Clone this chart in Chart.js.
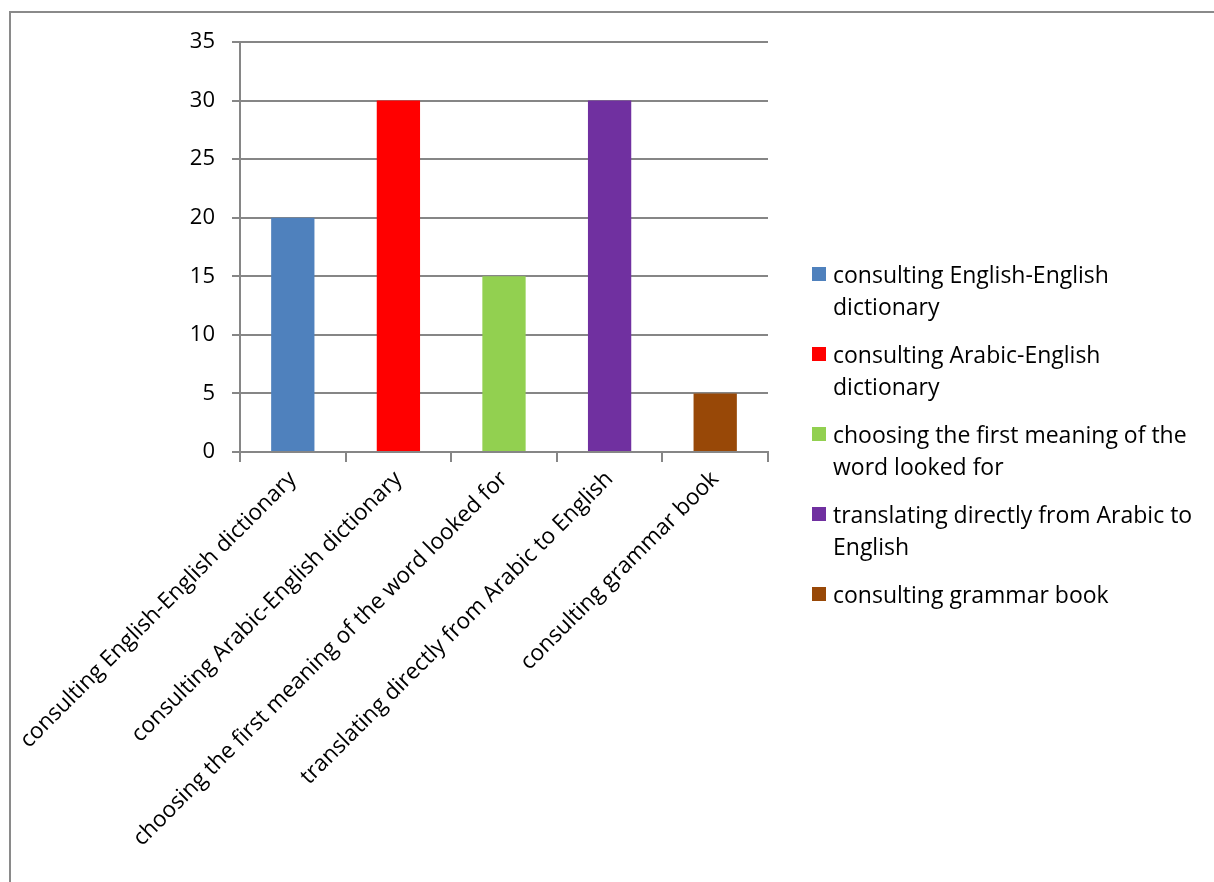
<!DOCTYPE html>
<html>
<head>
<meta charset="utf-8">
<script src="https://cdn.jsdelivr.net/npm/chart.js@4/dist/chart.umd.min.js"></script>
<style>
  html, body { margin: 0; padding: 0; background: #fff; overflow: hidden; }
  #wrap { position: relative; width: 1214px; height: 882px; overflow: hidden; }
  #frame { position: absolute; left: 9px; top: 11px; width: 1230px; height: 900px;
           border-left: 2px solid #8a8a8a; border-top: 2px solid #8a8a8a; }
  #legend { position: absolute; left: 812px; top: 258px; width: 400px;
            font-family: 'Open Sans', 'Noto Sans', sans-serif; font-size: 23px; color: #000; }
  .item { position: relative; padding-left: 21px; line-height: 32px; margin-bottom: 16px; }
  .item span { position: absolute; left: 0; top: 9px; width: 14px; height: 14px; }
</style>
</head>
<body>
<div id="wrap">
  <div id="frame"></div>
  <canvas id="chart" width="1214" height="882"></canvas>
  <div id="legend"></div>
</div>
<script>
const categories = [
  'consulting English-English dictionary',
  'consulting Arabic-English dictionary',
  'choosing the first meaning of the word looked for',
  'translating directly from Arabic to English',
  'consulting grammar book'
];
const values = [20, 30, 15, 30, 5];
const yTicks = [0, 5, 10, 15, 20, 25, 30, 35];

const palette = {
  blue:   '#4f81bd',
  red:    '#ff0000',
  green:  '#92d050',
  purple: '#7030a0',
  brown:  '#984807'
};
const barColors = [palette.blue, palette.red, palette.green, palette.purple, palette.brown];

const family = "'Open Sans', 'Noto Sans', sans-serif";

new Chart(document.getElementById('chart'), {
  type: 'bar',
  data: {
    labels: categories,
    datasets: [{
      data: values,
      backgroundColor: barColors,
      categoryPercentage: 1,
      barPercentage: 0.41
    }]
  },
  options: {
    responsive: false,
    animation: false,
    layout: { padding: { top: 42, right: 446, left: 0, bottom: 0 } },
    plugins: { legend: { display: false }, tooltip: { enabled: false } },
    scales: {
      x: {
        grid: { offset: true, drawOnChartArea: false, drawTicks: true, tickLength: 10, color: '#868686', lineWidth: 2 },
        border: { color: '#868686', width: 2 },
        ticks: { color: '#000', font: { family, size: 22.5 }, minRotation: 45, maxRotation: 45, padding: 4, autoSkip: false },
        afterFit: s => {
          s.height = 430;
          // rotated labels shouldn't push the plot area to the right
          s.paddingLeft = 0;
          s.paddingRight = 0;
        }
      },
      y: {
        min: 0, max: 35,
        afterBuildTicks: s => { s.ticks = yTicks.map(v => ({ value: v })); },
        grid: { color: '#868686', lineWidth: 2, tickLength: 8 },
        border: { color: '#868686', width: 2 },
        ticks: { color: '#000', font: { family, size: 22 }, padding: 17 },
        afterFit: s => { s.width = 240; }
      }
    }
  }
});

// legend with wrapped labels, built from the same arrays
const legend = document.getElementById('legend');
categories.forEach((c, i) => {
  const d = document.createElement('div');
  d.className = 'item';
  d.innerHTML = '<span style="background:' + barColors[i] + '"></span>' + c;
  legend.appendChild(d);
});
</script>
</body>
</html>
